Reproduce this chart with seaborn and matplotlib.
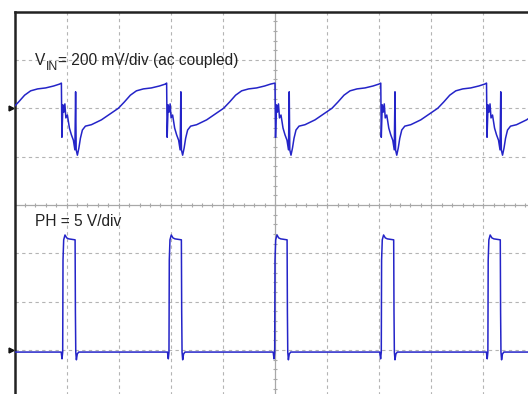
import numpy as np
import pandas as pd
import matplotlib
matplotlib.use("Agg")
import matplotlib.pyplot as plt
import matplotlib.transforms as mtransforms
import seaborn as sns

# ---------------- data (scope divisions: x -5..5, y -4..4) ----------------
vin_cycle_start = [-6.13, -4.10, -2.08, 0.0, 2.03, 4.06]
vin_shape_t = [0.000, 0.010, 0.029, 0.048, 0.067, 0.086, 0.115, 0.154, 0.192,
               0.230, 0.259, 0.273, 0.284, 0.307, 0.336, 0.365, 0.403, 0.461,
               0.576, 0.768, 0.960, 1.094, 1.209, 1.324, 1.440, 1.574, 1.727,
               1.881, 1.996]
vin_shape_v = [2.52, 1.40, 2.07, 1.92, 2.09, 1.80, 1.86, 1.59, 1.45,
               1.34, 1.14, 2.34, 1.14, 1.03, 1.18, 1.38, 1.55, 1.63,
               1.66, 1.76, 1.90, 2.00, 2.13, 2.27, 2.36, 2.40, 2.42,
               2.46, 2.50]

ph_rise = [-4.075, -2.035, -0.006, 2.040, 4.086]
ph_shape_t = [-0.029, -0.013, 0.000, 0.006, 0.019, 0.044, 0.077, 0.115,
              0.238, 0.244, 0.251, 0.263, 0.280, 0.307]
ph_shape_v = [-3.04, -3.18, -3.04, -1.14, -0.72, -0.62, -0.68, -0.70,
              -0.72, -2.21, -3.04, -3.20, -3.08, -3.04]
ph_low = -3.04

label_vin_main = "V"
label_vin_sub = "IN"
label_vin_rest = "= 200 mV/div (ac coupled)"
label_ph = "PH = 5 V/div"
ground_levels = [2.0, -3.0]

# ---------------- build traces ----------------
vt, vv = [], []
for s in vin_cycle_start:
    vt += [s + t for t in vin_shape_t]
    vv += list(vin_shape_v)
vin = pd.DataFrame({"t": vt, "v": vv, "ch": "VIN"})

pt, pv = [-5.2], [ph_low]
for r in ph_rise:
    pt += [r + t for t in ph_shape_t]
    pv += list(ph_shape_v)
pt.append(5.2)
pv.append(ph_low)
ph = pd.DataFrame({"t": pt, "v": pv, "ch": "PH"})

# ---------------- figure ----------------
sns.set_theme(style="white")
plt.rcParams["font.family"] = ["Liberation Sans", "DejaVu Sans"]

W, H = 528, 394
fig = plt.figure(figsize=(W / 100, H / 100), dpi=100)
left, top = 14.5, 11.5
aw, ah = 521.0, 387.0
ax = fig.add_axes([left / W, (H - top - ah) / H, aw / W, ah / H])
ax.set_xlim(-5, 5)
ax.set_ylim(-4, 4)
ax.set_xticks([])
ax.set_yticks([])
for side in ["left", "top"]:
    ax.spines[side].set_color("#222222")
    ax.spines[side].set_linewidth(1.8)
for side in ["right", "bottom"]:
    ax.spines[side].set_visible(False)

grid_col = "#b4b4b4"
for x in range(-4, 5):
    if x != 0:
        ax.axvline(x, color=grid_col, lw=0.8, dashes=(3, 3), zorder=1)
for y in range(-3, 4):
    if y != 0:
        ax.axhline(y, color=grid_col, lw=0.8, dashes=(3, 3), zorder=1)
ax.axvline(0, color="#a8a8a8", lw=0.9, zorder=1)
ax.axhline(0, color="#a8a8a8", lw=0.9, zorder=1)
minor = np.round(np.arange(-5, 5.01, 0.2), 2)
ax.plot(minor, np.zeros_like(minor), ls="none", marker="|", ms=3.5,
        mew=0.8, color="#a8a8a8", zorder=1)
ax.plot(np.zeros_like(minor), minor, ls="none", marker="_", ms=3.5,
        mew=0.8, color="#a8a8a8", zorder=1)

trace_col = "#2424c8"
sns.lineplot(data=vin, x="t", y="v", sort=False, estimator=None,
             color=trace_col, lw=1.1, ax=ax, zorder=3)
sns.lineplot(data=ph, x="t", y="v", sort=False, estimator=None,
             color=trace_col, lw=1.1, ax=ax, zorder=3)
ax.set_xlabel("")
ax.set_ylabel("")

# ground markers
for g in ground_levels:
    ax.plot([-5.06], [g], marker=">", ms=3.5, color="#111111",
            clip_on=False, zorder=5)

txt_col = "#222222"
fs = 11.2
t1 = ax.text(-4.607, 2.89, label_vin_main, fontsize=fs, color=txt_col,
             ha="left", va="baseline", zorder=4)
fig.canvas.draw()
r = fig.canvas.get_renderer()
bb = t1.get_window_extent(r)
tr_sub = mtransforms.offset_copy(ax.transData, fig=fig, x=bb.width * 72 / 100 + 0.3,
                                 y=-3.6, units="points")
t2 = ax.text(-4.607, 2.89, label_vin_sub, fontsize=8.8, color=txt_col,
             ha="left", va="baseline", zorder=4, transform=tr_sub)
bb2 = t2.get_window_extent(r)
tr_rest = mtransforms.offset_copy(ax.transData, fig=fig,
                                  x=(bb2.x1 - bb.x0) * 72 / 100, y=0,
                                  units="points")
ax.text(-4.607, 2.89, label_vin_rest, fontsize=fs, color=txt_col,
        ha="left", va="baseline", zorder=4, transform=tr_rest)
ax.text(-4.607, -0.434, label_ph, fontsize=fs, color=txt_col,
        ha="left", va="baseline", zorder=4)

fig.savefig("out.png", dpi=100)
